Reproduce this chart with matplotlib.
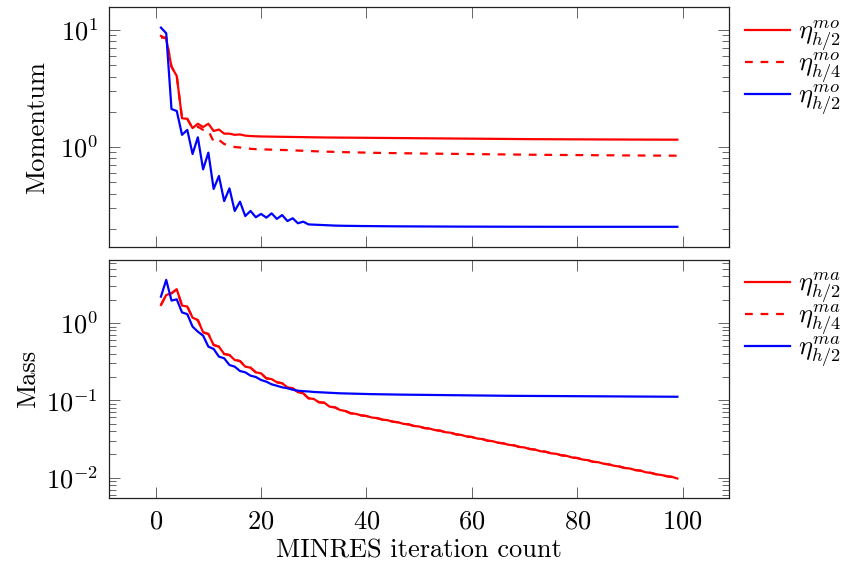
import matplotlib
matplotlib.use('Agg')
import matplotlib.pyplot as plt
from matplotlib.ticker import LogLocator, NullFormatter, LogFormatterSciNotation, MultipleLocator

plt.rcParams['font.family'] = 'cmr10'
plt.rcParams['mathtext.fontset'] = 'cm'
plt.rcParams['axes.formatter.use_mathtext'] = True

iterations = list(range(1, 100))

mom_h2 = [8.89, 8.4, 4.86, 4.04, 1.76, 1.74, 1.45, 1.58, 1.48, 1.58,
          1.37, 1.41, 1.30, 1.30, 1.27, 1.28, 1.25, 1.24, 1.235, 1.23,
          1.228, 1.226, 1.224, 1.222, 1.220, 1.218, 1.216, 1.214, 1.212, 1.210,
          1.208, 1.206, 1.205, 1.204, 1.203, 1.202, 1.201, 1.200, 1.199, 1.198,
          1.197, 1.196, 1.195, 1.194, 1.193, 1.192, 1.191, 1.190, 1.189, 1.188,
          1.187, 1.186, 1.185, 1.184, 1.183, 1.182, 1.181, 1.180, 1.179, 1.178,
          1.177, 1.176, 1.175, 1.174, 1.173, 1.172, 1.171, 1.170, 1.169, 1.168,
          1.167, 1.166, 1.166, 1.165, 1.165, 1.164, 1.164, 1.163, 1.163, 1.162,
          1.162, 1.161, 1.161, 1.160, 1.160, 1.159, 1.159, 1.158, 1.158, 1.157,
          1.157, 1.157, 1.156, 1.156, 1.156, 1.155, 1.155, 1.155, 1.155]

mom_h4 = [8.6, 8.6, 4.86, 4.04, 1.76, 1.74, 1.44, 1.49, 1.40, 1.38,
          1.11, 1.15, 1.06, 1.03, 1.00, 0.99, 0.98, 0.965, 0.958, 0.955,
          0.952, 0.949, 0.946, 0.943, 0.940, 0.936, 0.932, 0.928, 0.924, 0.920,
          0.917, 0.914, 0.911, 0.908, 0.905, 0.903, 0.901, 0.899, 0.897, 0.895,
          0.893, 0.891, 0.890, 0.888, 0.887, 0.886, 0.884, 0.883, 0.882, 0.880,
          0.879, 0.878, 0.877, 0.876, 0.875, 0.874, 0.873, 0.872, 0.871, 0.870,
          0.869, 0.868, 0.867, 0.866, 0.865, 0.864, 0.863, 0.862, 0.861, 0.860,
          0.859, 0.858, 0.858, 0.857, 0.856, 0.856, 0.855, 0.854, 0.854, 0.853,
          0.852, 0.852, 0.851, 0.850, 0.850, 0.849, 0.849, 0.848, 0.847, 0.847,
          0.846, 0.846, 0.845, 0.845, 0.844, 0.844, 0.844, 0.843, 0.843]

mom_blue = [10.47, 9.37, 2.11, 2.03, 1.27, 1.40, 0.871, 1.21, 0.644, 0.895,
            0.438, 0.565, 0.345, 0.443, 0.284, 0.341, 0.257, 0.284, 0.251, 0.268,
            0.249, 0.271, 0.243, 0.262, 0.233, 0.246, 0.223, 0.230, 0.218, 0.217,
            0.216, 0.215, 0.214, 0.213, 0.2125, 0.212, 0.2118, 0.2115, 0.2112, 0.211,
            0.2108, 0.2106, 0.2104, 0.2102, 0.210, 0.2099, 0.2098, 0.2097, 0.2096, 0.2095,
            0.2094, 0.2093, 0.2092, 0.2091, 0.209, 0.2089, 0.2088, 0.2088, 0.2087, 0.2087,
            0.2086, 0.2086, 0.2085, 0.2085, 0.2084, 0.2084, 0.2083, 0.2083, 0.2083, 0.2082,
            0.2082, 0.2082, 0.2081, 0.2081, 0.2081, 0.2081, 0.208, 0.208, 0.208, 0.208,
            0.208, 0.208, 0.208, 0.208, 0.208, 0.208, 0.208, 0.208, 0.208, 0.208,
            0.208, 0.208, 0.208, 0.208, 0.208, 0.208, 0.208, 0.208, 0.208]

mass_h2 = [1.71, 2.30, 2.42, 2.73, 1.68, 1.63, 1.17, 1.09, 0.757, 0.72,
           0.519, 0.494, 0.397, 0.385, 0.332, 0.322, 0.272, 0.264, 0.230, 0.223,
           0.192, 0.188, 0.171, 0.166, 0.147, 0.143, 0.127, 0.123, 0.106, 0.104,
           0.094, 0.093, 0.0826, 0.081, 0.0748, 0.0726, 0.0678, 0.0667, 0.0637, 0.0626,
           0.0598, 0.0588, 0.0562, 0.0553, 0.0528, 0.0519, 0.0495, 0.0488, 0.0465, 0.0458,
           0.0437, 0.0430, 0.0411, 0.0404, 0.0386, 0.0380, 0.0362, 0.0356, 0.0340, 0.0335,
           0.0320, 0.0315, 0.0300, 0.0295, 0.0282, 0.0277, 0.0265, 0.0261, 0.0249, 0.0245,
           0.0234, 0.0230, 0.0219, 0.0216, 0.0206, 0.0203, 0.0194, 0.0191, 0.0182, 0.0179,
           0.0171, 0.0168, 0.0160, 0.0158, 0.0151, 0.0148, 0.0142, 0.0139, 0.0133, 0.0131,
           0.0125, 0.0123, 0.0117, 0.0115, 0.0110, 0.0108, 0.0104, 0.0102, 0.00972]

# the h/4 mass curve coincides with the h/2 one in the picture
mass_h4 = list(mass_h2)

mass_blue = [2.19, 3.61, 1.95, 2.02, 1.37, 1.30, 0.897, 0.772, 0.686, 0.494,
             0.461, 0.367, 0.349, 0.286, 0.272, 0.239, 0.230, 0.208, 0.200, 0.183,
             0.174, 0.161, 0.154, 0.147, 0.143, 0.137, 0.133, 0.131, 0.130, 0.128,
             0.127, 0.126, 0.125, 0.124, 0.123, 0.1225, 0.122, 0.1215, 0.121, 0.1205,
             0.120, 0.1197, 0.1194, 0.1191, 0.1188, 0.1185, 0.1182, 0.118, 0.1178, 0.1176,
             0.1174, 0.1172, 0.117, 0.1168, 0.1166, 0.1164, 0.1162, 0.116, 0.1158, 0.1156,
             0.1154, 0.1152, 0.115, 0.1148, 0.1146, 0.1144, 0.1142, 0.1141, 0.114, 0.1139,
             0.1138, 0.1137, 0.1136, 0.1135, 0.1134, 0.1133, 0.1132, 0.1131, 0.113, 0.1129,
             0.1128, 0.1127, 0.1126, 0.1125, 0.1124, 0.1123, 0.1122, 0.1121, 0.112, 0.1119,
             0.1118, 0.1117, 0.1116, 0.1115, 0.1114, 0.1113, 0.1112, 0.1111, 0.111]

mom_labels = [r'$\eta^{mo}_{h/2}$', r'$\eta^{mo}_{h/4}$', r'$\eta^{mo}_{h/2}$']
mass_labels = [r'$\eta^{ma}_{h/2}$', r'$\eta^{ma}_{h/4}$', r'$\eta^{ma}_{h/2}$']
xlabel = 'MINRES iteration count'

FS = 19
LW = 1.6
dash = (0, (3.5, 3.5))

fig = plt.figure(figsize=(8.46, 5.67), dpi=100)
ax1 = fig.add_axes([0.1292, 0.5649, 0.7325, 0.4219])
ax2 = fig.add_axes([0.1292, 0.1212, 0.7325, 0.4203])

ax1.plot(iterations, mom_h2, color='#ff0000', lw=LW, label=mom_labels[0])
ax1.plot(iterations, mom_h4, color='#ff0000', lw=LW, linestyle=dash, label=mom_labels[1])
ax1.plot(iterations, mom_blue, color='#0000ff', lw=LW, label=mom_labels[2])

ax2.plot(iterations, mass_h2, color='#ff0000', lw=LW, label=mass_labels[0])
ax2.plot(iterations, mass_h4, color='#ff0000', lw=LW, linestyle=dash, label=mass_labels[1])
ax2.plot(iterations, mass_blue, color='#0000ff', lw=LW, label=mass_labels[2])

ax1.set_yscale('log')
ax2.set_yscale('log')
ax1.set_ylim(10 ** -0.852, 10 ** 1.192)
ax2.set_ylim(10 ** -2.268, 10 ** 0.815)

for ax in (ax1, ax2):
    ax.set_xlim(-8.8, 108.8)
    ax.xaxis.set_major_locator(MultipleLocator(20))
    ax.yaxis.set_major_locator(LogLocator(base=10, numticks=10))
    ax.yaxis.set_minor_locator(LogLocator(base=10, subs=range(2, 10), numticks=20))
    ax.yaxis.set_minor_formatter(NullFormatter())
    ax.yaxis.set_major_formatter(LogFormatterSciNotation())
    ax.tick_params(which='both', direction='in', top=True, right=True,
                   color='#666666', width=0.7, labelsize=FS, pad=8)
    ax.tick_params(which='major', length=8)
    ax.tick_params(which='minor', length=5)
    for s in ax.spines.values():
        s.set_color('#222222')
        s.set_linewidth(0.9)

ax1.tick_params(axis='x', labelbottom=False)
ax1.set_ylabel('Momentum', fontsize=FS, labelpad=8)
ax2.set_ylabel('Mass', fontsize=FS)
ax2.set_xlabel(xlabel, fontsize=FS)

for ax in (ax1, ax2):
    ax.legend(loc='upper left', bbox_to_anchor=(1.0, 1.022), frameon=False,
              fontsize=FS, handlelength=1.7, handletextpad=0.3, labelspacing=-0.11,
              borderaxespad=0.2)

fig.savefig('out.png', dpi=100)
